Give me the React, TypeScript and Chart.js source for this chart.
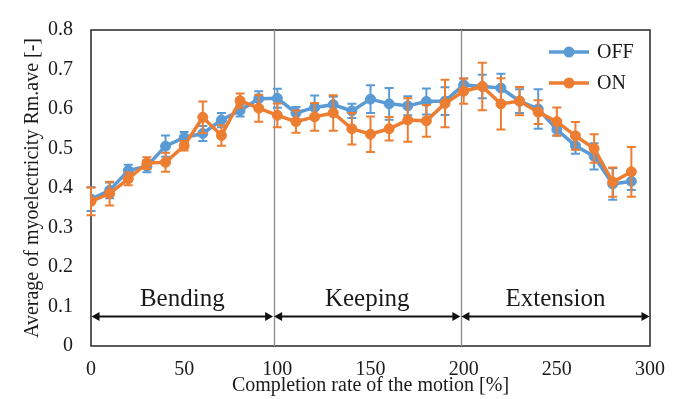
import React, { useEffect, useRef } from "react";
import { Chart, registerables } from "chart.js";

Chart.register(...registerables);

const xValues = [0, 10, 20, 30, 40, 50, 60, 70, 80, 90, 100, 110, 120, 130, 140, 150, 160, 170, 180, 190, 200, 210, 220, 230, 240, 250, 260, 270, 280, 290];
const offMeans = [0.372, 0.394, 0.444, 0.455, 0.506, 0.528, 0.538, 0.572, 0.596, 0.626, 0.627, 0.59, 0.604, 0.611, 0.595, 0.625, 0.613, 0.608, 0.619, 0.62, 0.661, 0.657, 0.653, 0.62, 0.6, 0.548, 0.507, 0.48, 0.41, 0.417];
const offErrors = [0.03, 0.02, 0.015, 0.015, 0.027, 0.014, 0.019, 0.018, 0.015, 0.019, 0.024, 0.015, 0.03, 0.02, 0.018, 0.035, 0.04, 0.024, 0.033, 0.035, 0.016, 0.03, 0.036, 0.03, 0.05, 0.015, 0.02, 0.033, 0.04, 0.022];
const onMeans = [0.366, 0.386, 0.423, 0.463, 0.465, 0.507, 0.579, 0.533, 0.621, 0.602, 0.584, 0.568, 0.58, 0.59, 0.55, 0.536, 0.55, 0.572, 0.57, 0.614, 0.645, 0.657, 0.613, 0.62, 0.592, 0.568, 0.532, 0.5, 0.415, 0.441];
const onErrors = [0.035, 0.03, 0.016, 0.015, 0.024, 0.012, 0.04, 0.026, 0.018, 0.034, 0.03, 0.028, 0.035, 0.045, 0.04, 0.045, 0.03, 0.055, 0.04, 0.06, 0.032, 0.06, 0.065, 0.036, 0.03, 0.036, 0.035, 0.036, 0.037, 0.063];
const seriesNames = ["OFF", "ON"];
const xTickValues = [0, 50, 100, 150, 200, 250, 300];
const yTickValues = [0, 0.1, 0.2, 0.3, 0.4, 0.5, 0.6, 0.7, 0.8];
const phaseBounds = [0, 98, 198.5, 300];
const phaseNames = ["Bending", "Keeping", "Extension"];
const xTitle = "Completion rate of the motion [%]";
const yTitle = "Average of myoelectricity Rm.ave [-]";

const BLUE = "#5B9BD5";
const ORANGE = "#ED7D31";
const FONT = "'Liberation Serif', 'Times New Roman', serif";
const TEXT = "#1a1a1a";
const ARROW_Y = 0.075;
const PHASE_LABEL_Y = 0.117;

const errorBarPlugin = {
  id: "errorBars",
  beforeDatasetDraw(chart: any, args: any) {
    const ds: any = chart.data.datasets[args.index];
    const errs: number[] = ds.errors;
    if (!errs) return;
    const xs = chart.scales.x;
    const ys = chart.scales.y;
    const ctx = chart.ctx;
    ctx.save();
    ctx.strokeStyle = ds.borderColor;
    ctx.lineWidth = 2;
    ds.data.forEach((p: any, i: number) => {
      const x = xs.getPixelForValue(p.x);
      const yTop = ys.getPixelForValue(p.y + errs[i]);
      const yBot = ys.getPixelForValue(p.y - errs[i]);
      ctx.beginPath();
      ctx.moveTo(x, yTop);
      ctx.lineTo(x, yBot);
      ctx.moveTo(x - 4.5, yTop);
      ctx.lineTo(x + 4.5, yTop);
      ctx.moveTo(x - 4.5, yBot);
      ctx.lineTo(x + 4.5, yBot);
      ctx.stroke();
    });
    ctx.restore();
  },
};

function arrowHead(ctx: CanvasRenderingContext2D, tipX: number, y: number, dir: number) {
  ctx.beginPath();
  ctx.moveTo(tipX, y);
  ctx.lineTo(tipX - dir * 8, y - 4.5);
  ctx.lineTo(tipX - dir * 8, y + 4.5);
  ctx.closePath();
  ctx.fill();
}

const framePlugin = {
  id: "frameAndPhases",
  beforeDatasetsDraw(chart: any) {
    const { ctx, chartArea } = chart;
    const xs = chart.scales.x;
    const ys = chart.scales.y;
    ctx.save();
    ctx.strokeStyle = "#262626";
    ctx.lineWidth = 1.5;
    ctx.strokeRect(chartArea.left, chartArea.top, chartArea.right - chartArea.left, chartArea.bottom - chartArea.top);
    ctx.strokeStyle = "#8a8a8a";
    ctx.lineWidth = 1.3;
    for (let i = 1; i < phaseBounds.length - 1; i++) {
      const x = Math.round(xs.getPixelForValue(phaseBounds[i])) + 0.5;
      ctx.beginPath();
      ctx.moveTo(x, chartArea.top);
      ctx.lineTo(x, chartArea.bottom);
      ctx.stroke();
    }
    const ay = ys.getPixelForValue(ARROW_Y);
    ctx.strokeStyle = "#111";
    ctx.fillStyle = "#111";
    ctx.lineWidth = 2;
    for (let i = 0; i < phaseBounds.length - 1; i++) {
      const x0 = xs.getPixelForValue(phaseBounds[i]) + 0.5;
      const x1 = xs.getPixelForValue(phaseBounds[i + 1]) - 0.5;
      ctx.beginPath();
      ctx.moveTo(x0 + 4, ay);
      ctx.lineTo(x1 - 4, ay);
      ctx.stroke();
      arrowHead(ctx, x0, ay, -1);
      arrowHead(ctx, x1, ay, 1);
    }
    ctx.font = `25px ${FONT}`;
    ctx.fillStyle = TEXT;
    ctx.textAlign = "center";
    ctx.textBaseline = "middle";
    const ly = ys.getPixelForValue(PHASE_LABEL_Y);
    for (let i = 0; i < phaseNames.length; i++) {
      const cx = xs.getPixelForValue((phaseBounds[i] + phaseBounds[i + 1]) / 2);
      ctx.fillText(phaseNames[i], cx, ly);
    }
    ctx.restore();
  },
};

const legendPlugin = {
  id: "customLegend",
  afterDraw(chart: any) {
    const { ctx, chartArea } = chart;
    ctx.save();
    const items = [chart.data.datasets[0], chart.data.datasets[1]];
    items.forEach((ds: any, i: number) => {
      const y = chartArea.top + 22 + i * 31;
      const x0 = chartArea.right - 101;
      const x1 = chartArea.right - 61;
      ctx.strokeStyle = ds.borderColor;
      ctx.lineWidth = 3.5;
      ctx.beginPath();
      ctx.moveTo(x0, y);
      ctx.lineTo(x1, y);
      ctx.stroke();
      ctx.fillStyle = ds.borderColor;
      ctx.beginPath();
      ctx.arc((x0 + x1) / 2, y, 5.5, 0, Math.PI * 2);
      ctx.fill();
      ctx.fillStyle = TEXT;
      ctx.font = `20px ${FONT}`;
      ctx.textAlign = "left";
      ctx.textBaseline = "middle";
      ctx.fillText(ds.label, chartArea.right - 53, y + 1);
    });
    ctx.restore();
  },
};

export default function App() {
  const canvasRef = useRef<HTMLCanvasElement | null>(null);

  useEffect(() => {
    document.body.style.margin = "0";
    const canvas = canvasRef.current;
    if (!canvas) return;
    const toPoints = (ys: number[]) => xValues.map((x, i) => ({ x, y: ys[i] }));
    const chart = new Chart(canvas, {
      type: "line",
      data: {
        datasets: [
          {
            label: seriesNames[0],
            data: toPoints(offMeans),
            errors: offErrors,
            borderColor: BLUE,
            backgroundColor: BLUE,
            pointBackgroundColor: BLUE,
            pointBorderColor: BLUE,
            borderWidth: 3.5,
            pointRadius: 5,
            pointBorderWidth: 1,
            tension: 0,
            order: 2,
          } as any,
          {
            label: seriesNames[1],
            data: toPoints(onMeans),
            errors: onErrors,
            borderColor: ORANGE,
            backgroundColor: ORANGE,
            pointBackgroundColor: ORANGE,
            pointBorderColor: ORANGE,
            borderWidth: 3.5,
            pointRadius: 5,
            pointBorderWidth: 1,
            tension: 0,
            order: 1,
          } as any,
        ],
      },
      options: {
        responsive: false,
        animation: false,
        devicePixelRatio: 1,
        layout: { padding: { top: 16, right: 19, left: 0, bottom: 0 } },
        plugins: {
          legend: { display: false },
          tooltip: { enabled: false },
        },
        scales: {
          x: {
            type: "linear",
            min: 0,
            max: 300,
            grid: { display: false, drawTicks: false },
            border: { display: false },
            afterBuildTicks: (s: any) => {
              s.ticks = xTickValues.map((v) => ({ value: v }));
            },
            afterFit: (s: any) => {
              s.height = 53;
            },
            ticks: {
              padding: 12,
              color: TEXT,
              font: { family: FONT, size: 20 },
              maxRotation: 0,
              autoSkip: false,
              callback: (v: any) => String(v),
            },
            title: {
              display: true,
              text: xTitle,
              color: TEXT,
              font: { family: FONT, size: 20 },
              padding: { top: 0, bottom: 1 },
            },
          },
          y: {
            type: "linear",
            min: 0,
            max: 0.8,
            grid: { display: false, drawTicks: false },
            border: { display: false },
            afterBuildTicks: (s: any) => {
              s.ticks = yTickValues.map((v) => ({ value: v }));
            },
            afterFit: (s: any) => {
              s.width = 91;
            },
            ticks: {
              padding: 18,
              color: TEXT,
              font: { family: FONT, size: 20 },
              autoSkip: false,
              callback: (v: any) => (v === 0 ? "0" : Number(v).toFixed(1)),
            },
            title: {
              display: true,
              text: yTitle,
              color: TEXT,
              font: { family: FONT, size: 20 },
              padding: { top: 21, bottom: 0 },
            },
          },
        },
      } as any,
      plugins: [framePlugin, errorBarPlugin, legendPlugin],
    });
    return () => chart.destroy();
  }, []);

  return (
    <div style={{ width: 677, height: 399, background: "#fff" }}>
      <canvas ref={canvasRef} width={677} height={399} style={{ display: "block" }} />
    </div>
  );
}
